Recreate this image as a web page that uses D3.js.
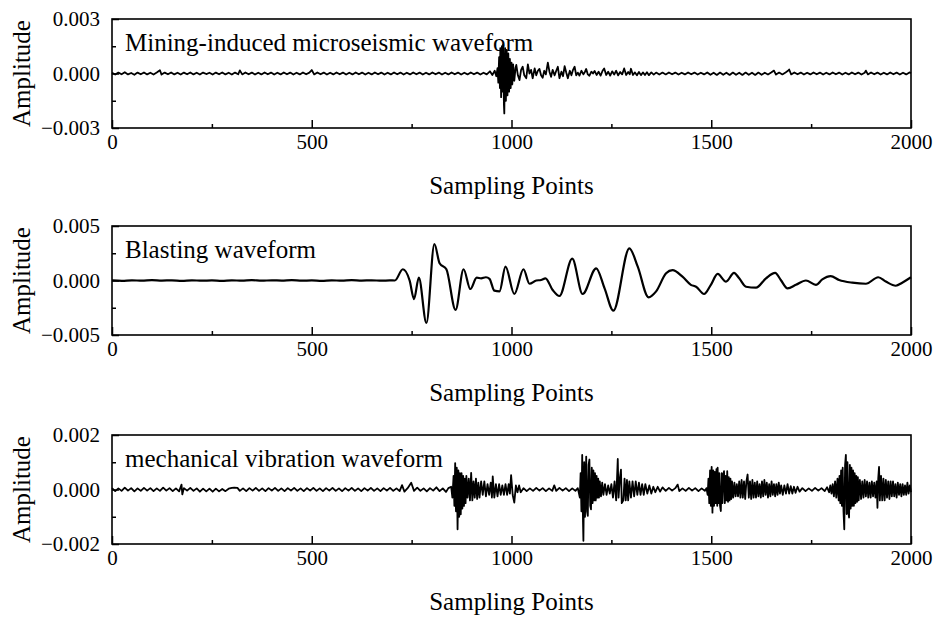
<!DOCTYPE html>
<html>
<head>
<meta charset="utf-8">
<script src="https://cdn.jsdelivr.net/npm/d3@7"></script>
<style>
body{margin:0;background:#fff;}
text{font-family:"Liberation Serif","Times New Roman",serif;fill:#000;}
</style>
</head>
<body>
<svg id="chart" width="937" height="619"></svg>
<script>
// amplitudes below are written in units of 1e-4
var AMP_UNIT = 1e-4;
var xMajor = [0, 500, 1000, 1500, 2000];
var xMinor = [250, 750, 1250, 1750];
var yLimits = [0.003, 0.005, 0.002];
var panelTitles = ["Mining-induced microseismic waveform", "Blasting waveform", "mechanical vibration waveform"];
var xTitle = "Sampling Points";
var yTitle = "Amplitude";

var miningWave = [[0,0.4],[8,-0.6],[16,0.5],[24,-0.4],[32,0.7],[40,-0.5],[48,0.3],[56,-0.7],[64,0.5],[72,-0.4],[80,0.6],[88,-0.5],[96,0.4],[104,-0.6],[112,0.5],[120,1.8],[124,-0.6],[132,0.5],[140,-0.4],[148,0.6],[156,-0.5],[164,0.4],[172,-0.6],[180,0.5],[188,-0.4],[196,0.6],[204,-0.5],[212,0.4],[220,-0.6],[228,0.5],[236,-0.3],[244,0.4],[252,-0.6],[260,0.5],[268,-0.4],[276,0.6],[284,-0.5],[292,0.4],[300,-0.6],[308,0.5],[316,-0.4],[320,1.7],[326,-0.5],[334,0.6],[342,-0.4],[350,0.5],[358,-0.6],[366,0.4],[374,-0.5],[382,0.6],[390,-0.4],[398,0.5],[406,-0.6],[414,0.4],[422,-0.5],[430,0.6],[438,-0.4],[446,0.5],[454,-0.6],[462,0.4],[470,-0.5],[478,0.6],[486,-0.4],[494,0.5],[500,1.9],[506,-0.5],[514,0.6],[522,-0.4],[530,0.5],[538,-0.6],[546,0.4],[554,-0.5],[562,0.6],[570,-0.4],[578,0.5],[586,-0.6],[594,0.4],[602,-0.5],[610,0.6],[618,-0.4],[626,0.5],[634,-0.6],[642,0.4],[650,-0.5],[658,0.6],[666,-0.4],[674,0.5],[682,-0.6],[690,0.4],[698,-0.5],[706,0.6],[714,-0.4],[722,0.5],[730,-0.6],[738,0.4],[746,-0.5],[754,0.6],[762,-0.4],[770,0.5],[778,-0.6],[786,0.4],[794,-0.5],[802,0.6],[810,-0.4],[818,0.5],[826,-0.6],[834,0.4],[842,-0.5],[850,0.6],[858,-0.4],[866,0.5],[874,-0.6],[882,0.4],[890,-0.5],[898,0.6],[906,-0.4],[914,0.5],[922,-0.6],[930,0.4],[938,-0.5],[946,1.2],[952,-0.8],[958,1.5],
  [962,-1.5],[965,3],[967,-5],[969,9],[971,-8],[972,14],[974,-13],[976,15],[978,-10],[979,16],[981,-17],[982,-22],[984,14],[986,-15],[988,13],[990,-12],[992,11],[994,-10],[996,8],[998,-8],[1000,6],[1002,-6],[1004,5],[1007,-4],[1010,3],[1012,4.7],[1016,-1],[1020,-3.6],[1024,2],[1028,3.7],[1032,-1],[1037,-2.6],[1041,5],[1045,0],[1049,2],[1053,-2.6],[1058,2.8],[1062,-1],[1066,1.5],[1070,2.5],[1074,-1],[1078,-2.3],[1082,1.5],[1086,-0.5],[1091,6],[1095,1],[1099,-1.8],[1103,2],[1108,-1],[1112,1.5],[1116,3.7],[1120,-2.6],[1125,1],[1129,-1.5],[1133,4],[1137,0.5],[1141,-2.6],[1146,1.5],[1150,-1],[1154,2],[1158,3.7],[1162,-1],[1166,0.5],[1170,-1.2],[1175,1.5],[1180,-0.5],[1184,1],[1187,2.5],[1191,-0.5],[1195,-1.2],[1200,1],[1204,0],[1208,1.4],[1213,-0.8],[1218,1],[1223,-1.2],[1228,1.5],[1232,2.8],[1237,-0.8],[1242,1],[1247,-1.2],[1252,1.2],[1257,-0.6],[1262,1.5],[1267,-1],[1272,0.8],[1277,-0.5],[1282,2.8],[1287,-0.8],[1292,0.8],[1296,-0.4],[1299,2.6],[1304,-0.8],[1309,0.6],[1314,-1],[1319,0.8],[1324,-0.9],[1329,0.6],[1334,-0.8],[1339,0.7],[1344,-0.9],[1350,0.6],[1356,-0.6],
  [1362,0.5],[1370,-0.6],[1378,0.5],[1386,-0.5],[1394,0.6],[1402,-0.4],[1410,0.5],[1418,-0.6],[1426,0.4],[1434,-0.5],[1442,0.6],[1450,-0.4],[1458,0.5],[1466,-0.6],[1474,0.4],[1482,-0.5],[1490,0.6],[1498,-0.7],[1506,0.4],[1514,-0.8],[1522,0.5],[1530,-0.7],[1538,0.4],[1546,-0.8],[1554,0.5],[1562,-0.7],[1570,0.4],[1578,-0.8],[1586,0.5],[1594,-0.7],[1602,0.4],[1610,-0.8],[1618,0.5],[1626,-0.7],[1634,0.4],[1642,-0.6],[1650,0.5],[1657,1.6],[1662,-0.6],[1670,0.5],[1678,-0.5],[1686,0.6],[1692,1.5],[1695,2.2],[1700,-0.5],[1708,0.6],[1716,-0.4],[1724,0.5],[1732,-0.6],[1740,0.4],[1748,-0.5],[1756,0.6],[1764,-0.4],[1772,0.5],[1780,-0.6],[1788,0.4],[1796,-0.5],[1804,0.6],[1812,-0.4],[1820,0.5],[1828,-0.6],[1836,0.4],[1844,-0.5],[1852,0.6],[1860,-0.4],[1868,0.5],[1876,-0.6],[1884,0.4],[1887,1.6],[1892,-0.5],[1900,0.6],[1908,-0.4],[1916,0.5],[1924,-0.6],[1932,0.4],[1940,-0.5],[1948,0.6],[1956,-0.4],[1964,0.5],[1972,-0.6],[1980,0.4],[1988,-0.5],[1996,0.6],[2000,0.2]];

var blastWave = [[0,0.1],[25,-0.3],[50,0.2],[75,-0.2],[100,0.3],[125,-0.1],[150,0.2],[175,-0.3],[200,0.2],[225,-0.2],[250,0.1],[275,-0.3],[300,0.2],[325,-0.2],[350,0.3],[375,-0.2],[400,0.2],[425,-0.1],[450,0.3],[475,-0.2],[500,0.1],[525,-0.3],[550,0.2],[575,-0.2],[600,0.3],[625,-0.1],[650,0.2],[675,-0.2],[695,0.1],[708,0],
  [728,10.3],[745,0],[756,-17],[768,2.6],[787,-39],[807,33.5],[820,15.8],[837,10.3],[860,-27],[880,10.3],[897,-7.8],[913,2.6],[924,2],[936,3],[945,1.5],[957,-9.3],[970,-10],[985,12.7],[1007,-12.4],[1030,10.3],[1045,-3],[1062,0],[1074,0.5],[1085,2],[1103,-8.7],[1120,-14.2],[1152,20],[1178,-12.4],[1212,11.2],[1233,-7.2],[1255,-27.7],[1295,29.5],[1316,12.7],[1343,-15.4],[1362,-10],[1387,6.6],[1403,9.5],[1428,3.5],[1449,-4],[1462,-5.7],[1482,-12.4],[1499,-4],[1516,6],[1537,-1],[1557,7],[1570,2],[1587,-5.7],[1612,-6.6],[1637,2],[1660,7],[1674,0.5],[1691,-7.2],[1712,-4],[1737,0],[1762,-4],[1778,1],[1799,4],[1820,0.5],[1853,-2],[1887,-3],[1918,3],[1937,-1],[1962,-4.8],[1978,-2],[2000,3]];

var mechWave = [[0,0.5],[8,-0.6],[16,0.4],[24,-0.5],[32,0.7],[40,-0.4],[48,0.5],[56,-0.7],[64,0.4],[72,-0.5],[80,0.6],[88,-0.4],[96,0.5],[104,-0.6],[112,0.4],[120,-0.5],[128,0.7],[136,-0.4],[144,0.5],[152,-0.6],[160,0.4],[168,-0.7],[174,1.8],[176,-1.8],[180,0.5],[188,-0.4],[196,0.6],[204,-0.5],[212,0.4],[220,-0.8],[228,0.3],[236,-0.7],[244,0.3],[252,-0.8],[260,0.3],[268,-0.7],[276,0.2],[284,-0.6],[292,0.3],[300,0.6],[306,0.7],[314,0.6],[320,-0.5],[328,0.4],[336,-0.6],[344,0.5],[352,-0.4],[360,0.6],[368,-0.5],[376,0.4],[384,-0.6],[392,0.5],[400,-0.4],[408,0.6],[416,-0.5],[424,0.4],[432,-0.6],[440,0.5],[448,-0.4],[456,0.6],[464,-0.5],[472,0.4],[480,-0.6],[488,0.5],[496,-0.4],[504,0.6],[512,-0.5],[520,0.4],[528,-0.6],[536,0.5],[544,-0.4],[552,0.6],[560,-0.5],[568,0.4],[576,-0.6],[584,0.5],[592,-0.4],[600,0.6],[608,-0.5],[616,0.4],[624,-0.6],[632,0.5],[640,-0.4],[648,0.6],[656,-0.5],[664,0.4],[672,-0.6],[680,0.5],[688,-0.4],[696,0.6],[704,-0.5],[712,0.4],[720,-0.6],[726,1.6],[732,-0.8],[740,0.5],[749,2.5],[756,-0.5],[764,0.7],[772,-0.5],[780,0.4],[788,-0.7],[796,0.5],[804,-0.4],[812,0.8],[820,-0.6],[828,0.4],[836,-0.9],[842,0.5],
  [849,1],[852,-3],[855,5],[857,-6],[859,9.7],[861,-8],[863,8],[865,-14.6],[867,7],[869,-10],[871,6],[873,-9.1],[875,6],[877,-7],[879,5],[881,-6],[883,4],[885,-5],[887,5],[890,-3],[893,4],[896,-4],[899,6.1],[902,-4],[905,3],[908,-3],[911,4],[914,-3.5],[917,2.5],[920,-3],[924,3],[928,-2],[932,3],[936,-2.5],[940,2],[944,-2],[948,2.5],[951,-3],[953,4.8],[957,-3],[961,2],[965,-2.5],[969,2],[973,-2],[977,1.5],[981,-2],[985,2],[989,-2],[993,2],[996,-1.5],[999,5.3],[1003,-2],[1007,-4.8],[1011,1.5],[1015,-1],[1019,1.5],[1023,-1],
  [1030,0.5],[1038,-0.6],[1046,0.4],[1054,-0.5],[1062,0.6],[1070,-0.4],[1078,0.5],[1086,-0.6],[1094,0.4],[1102,-0.5],[1107,1.5],[1112,-0.5],[1120,0.6],[1128,-0.4],[1136,0.5],[1144,-0.6],[1152,0.4],[1160,-0.5],[1166,0.5],
  [1171,-3],[1173,6],[1175,-8],[1177,12.7],[1179,-12],[1180,-18.8],[1182,10],[1184,-10],[1187,12.1],[1189,-8],[1191,-9.7],[1193,9],[1195,11],[1197,-6],[1199,-7.3],[1201,8],[1203,-5],[1205,7],[1207,-4],[1209,6],[1211,-4],[1213,5],[1215,-3],[1217,4],[1219,-3],[1221,3],[1224,-2.5],[1227,2.5],[1230,-2],[1234,2],[1238,-2],[1242,1.5],[1246,-1.5],[1250,2],[1254,-3],[1258,3],[1262,-4],[1266,11.2],[1268,-3],[1271,4],[1274,7.3],[1276,-5],[1280,-4],[1283,4],[1286,-4],[1289,3.5],[1292,-4],[1295,3],[1299,-3],[1303,3],[1307,-2.5],[1311,3],[1315,-2],[1319,2.5],[1323,-2],[1327,2],[1331,-2],[1335,2],[1340,-1.5],[1345,1.5],[1350,-1.5],[1355,1],[1360,-1],[1366,1],[1372,-0.8],[1378,0.8],
  [1386,-0.5],[1394,0.6],[1402,-0.4],[1410,0.5],[1416,1.8],[1420,-0.6],[1428,0.4],[1436,-0.5],[1444,0.6],[1452,-0.4],[1460,0.5],[1468,-0.6],[1476,0.4],[1484,-0.5],
  [1488,0.5],[1491,-2],[1493,4],[1495,-5],[1497,7],[1499,-6],[1501,8.3],[1503,-8.5],[1505,7],[1507,-6],[1509,6.5],[1511,-5],[1513,7.5],[1515,-6],[1516,8],[1518,-5],[1520,6],[1522,-6],[1524,-7.9],[1526,6],[1528,-5],[1530,5.5],[1532,6.7],[1534,-5],[1536,5],[1538,-4],[1540,6.7],[1542,-4.5],[1544,4.5],[1546,-4],[1548,4],[1550,-3.5],[1552,3],[1555,-3],[1558,2.5],[1561,-2.5],[1564,2],[1567,-2.5],[1570,3],[1573,-3],[1576,3.5],[1579,-3],[1582,3],[1585,-3.5],[1588,3],[1591,5.5],[1594,-3],[1597,3],[1600,-3.5],[1603,3.5],[1606,-3],[1609,2.5],[1612,-3],[1615,3],[1618,-2.5],[1621,2],[1624,-3],[1627,3],[1630,-2.5],[1633,3.5],[1636,-2],[1639,2.5],[1642,-3],[1645,2],[1648,-2.5],[1651,3],[1654,-2],[1657,2],[1660,-2.5],[1663,2],[1666,-2],[1669,2.5],[1672,-1.5],[1675,1.5],[1679,-2],[1683,1.5],[1687,-1.5],[1691,2],[1695,-1.5],[1699,1.2],[1703,-1.5],[1707,1],[1711,-1.2],[1716,1],[1721,-0.8],
  [1728,0.5],[1736,-0.6],[1744,0.4],[1752,-0.5],[1760,0.6],[1768,-0.4],[1776,0.5],[1784,-0.6],[1790,0.8],
  [1795,-1],[1798,1.5],[1801,-1.5],[1804,2],[1807,-2.5],[1810,3],[1813,-3],[1816,4],[1819,-4],[1821,5],[1823,-5],[1825,7],[1827,-6],[1829,8],[1831,-8],[1833,-14.6],[1835,9],[1837,12.7],[1839,-9],[1841,10],[1843,-8],[1845,-10.3],[1847,9],[1849,-7],[1851,8],[1853,-6],[1855,7],[1857,-6],[1859,6],[1861,-5],[1863,5],[1865,-4.5],[1867,4.5],[1869,-4],[1872,3.5],[1875,-3.5],[1878,3],[1881,-3],[1884,3.5],[1887,-2.5],[1890,3],[1893,-3],[1896,2.5],[1899,-3],[1902,3],[1905,-2.5],[1908,2.5],[1911,-3],[1914,3],[1916,-6.7],[1918,4],[1920,8.3],[1922,-4],[1925,5],[1928,-4],[1931,4],[1934,-4],[1937,3.5],[1940,-3],[1943,3],[1946,-3.5],[1949,3],[1952,-2.5],[1955,3],[1958,-2.5],[1961,2],[1964,-3],[1967,2.5],[1970,-2],[1973,2],[1976,-2.5],[1979,2],[1982,-2],[1985,1.5],[1988,-2],[1991,2.5],[1994,-1.5],[1997,1.5],[2000,-1]];

var waves = [miningWave, blastWave, mechWave];

var svg = d3.select("#chart");
var plot = {left:112, right:911, height:109};
var panelTops = [19, 226, 435];
var fmt = d3.format(".3f");

var x = d3.scaleLinear().domain([0, 2000]).range([plot.left, plot.right]);

function drawPanel(i){
    var top = panelTops[i];
    var lim = yLimits[i];
    var y = d3.scaleLinear().domain([-lim, lim]).range([top + plot.height, top]);
    var g = svg.append("g");

    // waveform
    var line = d3.line()
        .x(function(d){ return x(d[0]); })
        .y(function(d){ return y(d[1] * AMP_UNIT); });
    if(i == 1) line.curve(d3.curveMonotoneX);
    g.append("path")
        .datum(waves[i])
        .attr("d", line)
        .attr("fill", "none")
        .attr("stroke", "#000")
        .attr("stroke-width", i == 1 ? 2.2 : 1.8)
        .attr("stroke-linejoin", "round");

    // bottom axis, ticks point inward
    g.append("g")
        .attr("transform", "translate(0," + (top + plot.height) + ")")
        .call(d3.axisBottom(x).tickValues(xMajor).tickFormat(d3.format("d")).tickSizeInner(-8).tickSizeOuter(0).tickPadding(6));
    g.append("g")
        .attr("transform", "translate(0," + (top + plot.height) + ")")
        .call(d3.axisBottom(x).tickValues(xMinor).tickFormat("").tickSizeInner(-4).tickSizeOuter(0));

    // left axis
    g.append("g")
        .attr("transform", "translate(" + plot.left + ",0)")
        .call(d3.axisLeft(y).tickValues([-lim, 0, lim]).tickFormat(fmt).tickSizeInner(-7).tickSizeOuter(0).tickPadding(12));
    g.append("g")
        .attr("transform", "translate(" + plot.left + ",0)")
        .call(d3.axisLeft(y).tickValues([-lim / 2, lim / 2]).tickFormat("").tickSizeInner(-4).tickSizeOuter(0));

    g.selectAll(".domain").remove();
    g.selectAll(".tick line").attr("stroke", "#000").attr("stroke-width", 1.5);
    g.selectAll(".tick text").style("font-size", "21px").style("font-family", "Liberation Serif");

    // frame
    g.append("rect")
        .attr("x", plot.left)
        .attr("y", top)
        .attr("width", plot.right - plot.left)
        .attr("height", plot.height)
        .attr("fill", "none")
        .attr("stroke", "#000")
        .attr("stroke-width", 1.6);

    g.append("text")
        .attr("x", 125)
        .attr("y", top + 32)
        .style("font-size", "25px")
        .text(panelTitles[i]);

    g.append("text")
        .attr("x", (plot.left + plot.right) / 2)
        .attr("y", top + plot.height + 66)
        .attr("text-anchor", "middle")
        .style("font-size", "25px")
        .text(xTitle);

    g.append("text")
        .attr("transform", "translate(30," + (top + plot.height / 2) + ") rotate(-90)")
        .attr("text-anchor", "middle")
        .style("font-size", "25px")
        .text(yTitle);
}

for(var i = 0; i < 3; i++){
    drawPanel(i);
}
</script>
</body>
</html>
